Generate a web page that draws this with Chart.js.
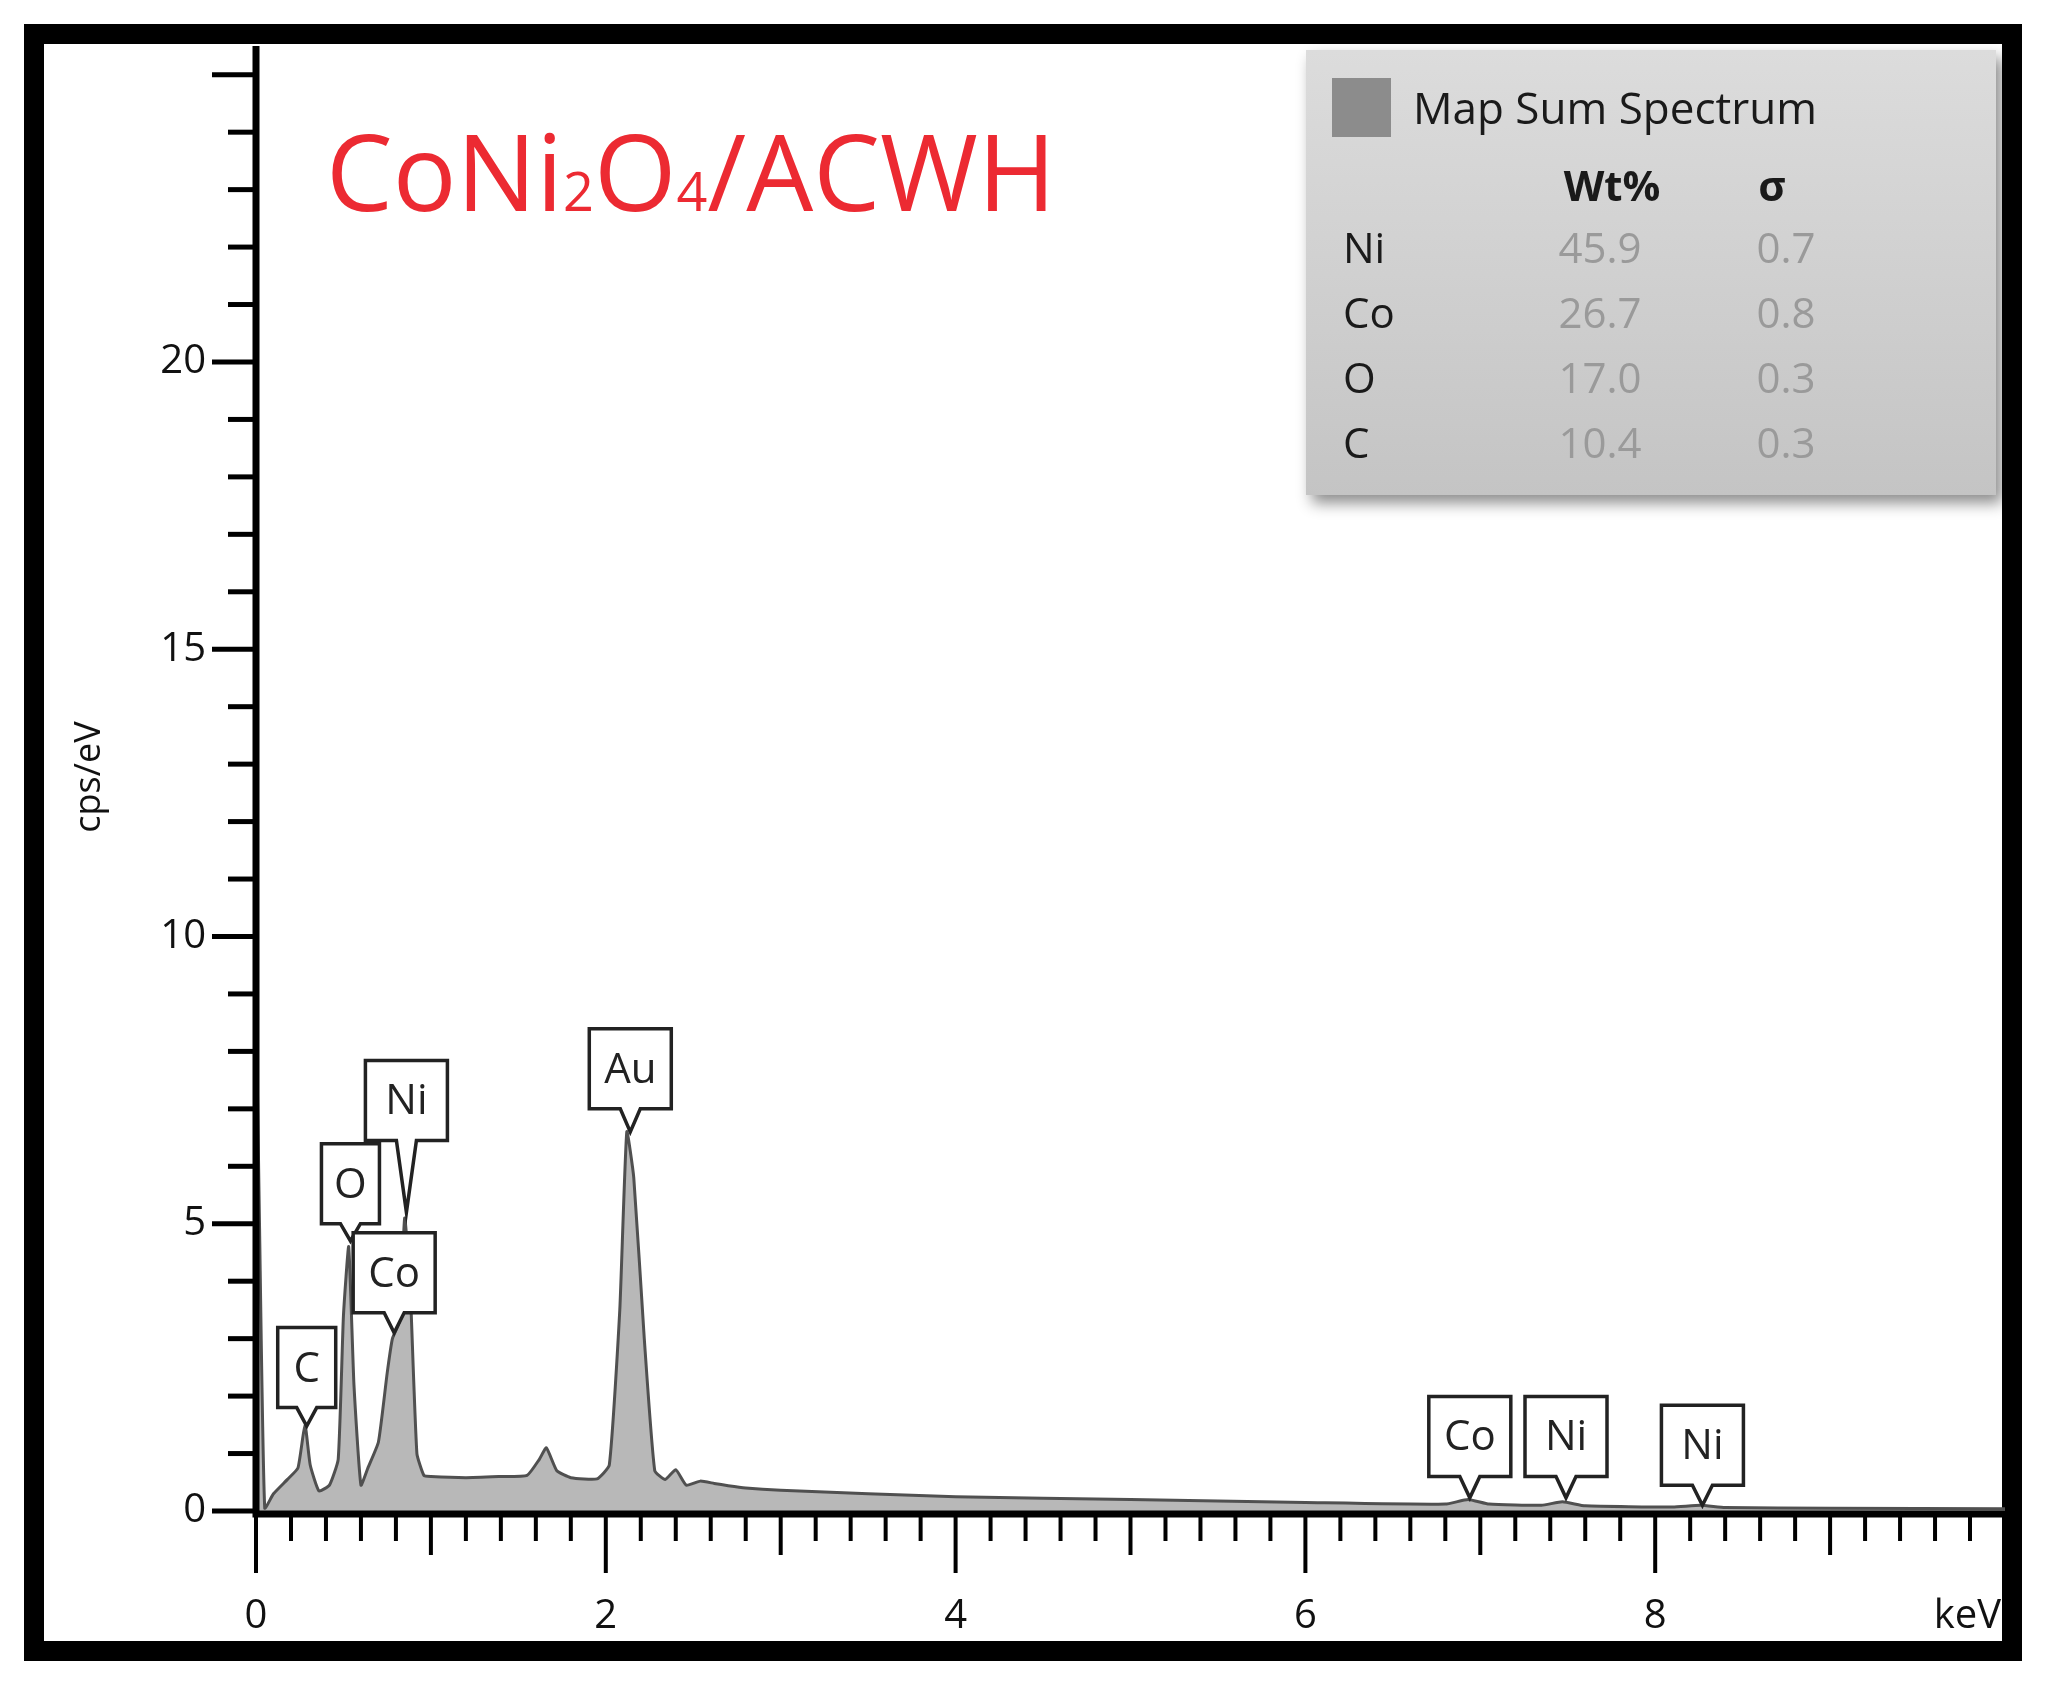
<!DOCTYPE html>
<html>
<head>
<meta charset="utf-8">
<script src="https://cdn.jsdelivr.net/npm/chart.js@4/dist/chart.umd.min.js"></script>
<style>
  html, body { margin: 0; padding: 0; background: #fff; }
  #wrap { width: 2047px; height: 1686px; }
</style>
</head>
<body>
<div id="wrap"><canvas id="eds" width="2047" height="1686"></canvas></div>
<script>
// spectrum (keV, cps/eV)
const energy = [0, 0.02, 0.05, 0.1, 0.18, 0.24, 0.28, 0.31, 0.36, 0.42, 0.47, 0.5, 0.53, 0.56, 0.6, 0.64, 0.7, 0.75, 0.78, 0.82, 0.85, 0.88, 0.92, 0.96, 1.0, 1.2, 1.4, 1.55, 1.62, 1.66, 1.72, 1.8, 1.95, 2.02, 2.08, 2.12, 2.16, 2.22, 2.28, 2.34, 2.4, 2.46, 2.54, 2.62, 2.7, 2.8, 3.0, 3.5, 4.0, 5.0, 6.0, 6.8, 6.93, 7.05, 7.35, 7.47, 7.6, 8.1, 8.26, 8.4, 9.0, 10.0];
const counts = [9.0, 5.0, 0.05, 0.3, 0.55, 0.75, 1.5, 0.8, 0.35, 0.45, 0.9, 3.4, 4.6, 2.2, 0.45, 0.75, 1.2, 2.4, 3.0, 3.3, 5.1, 4.0, 1.0, 0.62, 0.6, 0.58, 0.6, 0.62, 0.9, 1.1, 0.7, 0.58, 0.56, 0.8, 3.5, 6.6, 5.8, 3.0, 0.7, 0.55, 0.72, 0.45, 0.52, 0.48, 0.44, 0.4, 0.36, 0.3, 0.25, 0.2, 0.15, 0.12, 0.2, 0.12, 0.1, 0.16, 0.09, 0.07, 0.1, 0.06, 0.05, 0.04];

// peak callouts
const peakNames = ['C', 'O', 'Ni', 'Co', 'Au', 'Co', 'Ni', 'Ni'];
const peakEnergy = [0.29, 0.54, 0.86, 0.79, 2.14, 6.94, 7.49, 8.27];
const peakTip = [1.48, 4.7, 5.2, 3.1, 6.6, 0.23, 0.23, 0.1];
const peakBoxBottom = [1.8, 5.0, 6.45, 3.45, 7.0, 0.6, 0.6, 0.45];

// quantification table
const elements = ['Ni', 'Co', 'O', 'C'];
const wtPercent = ['45.9', '26.7', '17.0', '10.4'];
const sigma = ['0.7', '0.8', '0.3', '0.3'];

const yMajor = [0, 5, 10, 15, 20];
const xMajor = [0, 2, 4, 6, 8];

const FONT = '"Open Sans", "Noto Sans", sans-serif';

const decor = {
  id: 'decor',
  beforeDraw(chart) {
    const c = chart.ctx;
    c.save();
    c.fillStyle = '#000';
    c.fillRect(24, 24, 1998, 1637);
    c.fillStyle = '#fff';
    c.fillRect(44, 44, 1958, 1597);
    c.restore();
  },
  afterDatasetsDraw(chart) {
    const c = chart.ctx;
    const xs = chart.scales.x, ys = chart.scales.y;
    const x0 = xs.getPixelForValue(0), y0 = ys.getPixelForValue(0);
    c.save();
    c.strokeStyle = '#000';
    c.fillStyle = '#111';
    // axes
    c.lineWidth = 7;
    c.beginPath();
    c.moveTo(x0, chart.chartArea.top);
    c.lineTo(x0, y0 + 3);
    c.lineTo(xs.right, y0 + 3);
    c.stroke();
    // y ticks
    c.lineWidth = 5;
    for (let v = 0; v <= 25; v++) {
      const p = ys.getPixelForValue(v);
      const len = v % 5 === 0 ? 44 : 28;
      c.beginPath(); c.moveTo(x0 - len, p); c.lineTo(x0, p); c.stroke();
    }
    c.font = '40px ' + FONT;
    c.textAlign = 'right'; c.textBaseline = 'middle';
    yMajor.forEach(v => c.fillText(String(v), x0 - 50, ys.getPixelForValue(v)));
    // x ticks
    c.lineWidth = 4;
    for (let i = 0; i <= 50; i++) {
      const v = i * 0.2;
      const p = xs.getPixelForValue(v);
      const len = i % 10 === 0 ? 58 : (i % 5 === 0 ? 40 : 26);
      c.beginPath(); c.moveTo(p, y0 + 4); c.lineTo(p, y0 + 4 + len); c.stroke();
    }
    c.textAlign = 'center'; c.textBaseline = 'alphabetic';
    xMajor.forEach(v => c.fillText(String(v), xs.getPixelForValue(v), y0 + 117));
    c.textAlign = 'right';
    c.fillText('keV', xs.right - 4, y0 + 117);
    // y title
    c.save();
    c.translate(90, 777);
    c.rotate(-Math.PI / 2);
    c.textAlign = 'center'; c.textBaseline = 'middle';
    c.font = '36px ' + FONT;
    c.fillText('cps/eV', 0, 0);
    c.restore();

    // peak callouts
    c.font = '42px ' + FONT;
    c.textAlign = 'center'; c.textBaseline = 'middle';
    peakNames.forEach((name, i) => {
      const px = xs.getPixelForValue(peakEnergy[i]);
      const tip = ys.getPixelForValue(peakTip[i]);
      const bot = ys.getPixelForValue(peakBoxBottom[i]);
      const w = name.length > 1 ? 82 : 58, h = 80;
      c.beginPath();
      c.moveTo(px - w / 2, bot - h);
      c.lineTo(px + w / 2, bot - h);
      c.lineTo(px + w / 2, bot);
      c.lineTo(px + 10, bot);
      c.lineTo(px, tip);
      c.lineTo(px - 10, bot);
      c.lineTo(px - w / 2, bot);
      c.closePath();
      c.fillStyle = '#fff';
      c.fill();
      c.lineWidth = 3.5;
      c.strokeStyle = '#222';
      c.stroke();
      c.fillStyle = '#222';
      c.fillText(name, px, bot - h / 2 + 2);
    });

    // quant panel
    c.save();
    c.shadowColor = 'rgba(0,0,0,0.45)';
    c.shadowBlur = 14; c.shadowOffsetX = 6; c.shadowOffsetY = 8;
    const g = c.createLinearGradient(0, 50, 0, 496);
    g.addColorStop(0, '#dcdcdc'); g.addColorStop(1, '#c4c4c4');
    c.fillStyle = g;
    c.fillRect(1306, 50, 690, 445);
    c.restore();
    c.fillStyle = '#8c8c8c';
    c.fillRect(1332, 78, 59, 59);
    c.fillStyle = '#1a1a1a';
    c.textAlign = 'left'; c.textBaseline = 'middle';
    c.font = '44px ' + FONT;
    c.fillText('Map Sum Spectrum', 1413, 111);
    c.font = 'bold 42px ' + FONT;
    c.textAlign = 'center';
    c.fillText('Wt%', 1612, 189);
    c.fillText('σ', 1772, 189);
    elements.forEach((el, i) => {
      const yy = 251 + i * 65;
      c.font = '42px ' + FONT;
      c.textAlign = 'left'; c.fillStyle = '#1a1a1a';
      c.fillText(el, 1343, yy);
      c.textAlign = 'center'; c.fillStyle = '#9a9a9a';
      c.fillText(wtPercent[i], 1600, yy);
      c.fillText(sigma[i], 1786, yy);
    });

    // sample title
    c.fillStyle = '#ec2a32';
    c.textAlign = 'left'; c.textBaseline = 'alphabetic';
    let tx = 326;
    const parts = [['CoNi', 106], ['2', 54], ['O', 106], ['4', 54], ['/ACWH', 106]];
    parts.forEach(([t, s]) => {
      c.font = s + 'px ' + FONT;
      c.fillText(t, tx, 211);
      tx += c.measureText(t).width;
    });
    c.restore();
  }
};

new Chart(document.getElementById('eds'), {
  type: 'line',
  data: {
    datasets: [{
      data: energy.map((e, i) => ({ x: e, y: counts[i] })),
      borderColor: '#505050',
      borderWidth: 3,
      backgroundColor: '#b8b8b8',
      fill: 'origin',
      pointRadius: 0,
      tension: 0.15
    }]
  },
  options: {
    responsive: false,
    animation: false,
    layout: { padding: { left: 256, right: 42, top: 46, bottom: 175 } },
    plugins: { legend: { display: false }, tooltip: { enabled: false } },
    scales: {
      x: { type: 'linear', min: 0, max: 10, display: false },
      y: { min: 0, max: 25.5, display: false }
    }
  },
  plugins: [decor]
});
</script>
</body>
</html>
